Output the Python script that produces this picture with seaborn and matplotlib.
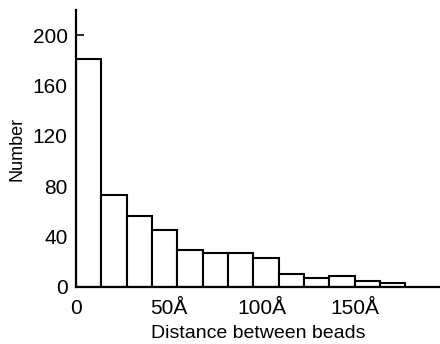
import numpy as np
import pandas as pd
import matplotlib
matplotlib.use("Agg")
import matplotlib.pyplot as plt
import seaborn as sns

# bin counts (13 bins of equal width, 11 bins = 150 A)
counts = [181, 73, 56, 45, 29, 27, 27, 23, 10, 7, 9, 5, 3]
bin_width = 150 / 11
centers = (np.arange(len(counts)) + 0.5) * bin_width

xticks = [0, 50, 100, 150]
xticklabels = ["0", "50Å", "100Å", "150Å"]
yticks = [0, 40, 80, 120, 160, 200]

df = pd.DataFrame({"distance": centers, "count": counts})

sns.set_style("ticks")
plt.rcParams["font.family"] = ["Liberation Sans", "DejaVu Sans"]
plt.rcParams["xtick.direction"] = "in"
plt.rcParams["ytick.direction"] = "in"

fig = plt.figure(figsize=(4.4, 3.44), dpi=100)
ax = fig.add_axes([0.1727, 0.1657, 0.8273, 0.8053])

sns.histplot(data=df, x="distance", weights="count",
             binwidth=bin_width, binrange=(0, len(counts) * bin_width), ax=ax,
             color="white", edgecolor="black", linewidth=1.5, alpha=1)

ax.set_xlim(0, 196)
ax.set_ylim(0, 220)
ax.set_xticks(xticks)
ax.set_xticklabels(xticklabels)
ax.set_yticks(yticks)
ax.tick_params(direction="in", length=6, width=1.2, labelsize=15, colors="black")
ax.tick_params(axis="x", pad=9)
ax.tick_params(axis="y", pad=6)
sns.despine(ax=ax)
for s in ["left", "bottom"]:
    ax.spines[s].set_linewidth(1.6)
    ax.spines[s].set_color("black")

ax.set_xlabel("Distance between beads", fontsize=14, labelpad=5, color="black")
ax.set_ylabel("Number", fontsize=13, labelpad=5, color="black")

fig.savefig("out.png", dpi=100)
